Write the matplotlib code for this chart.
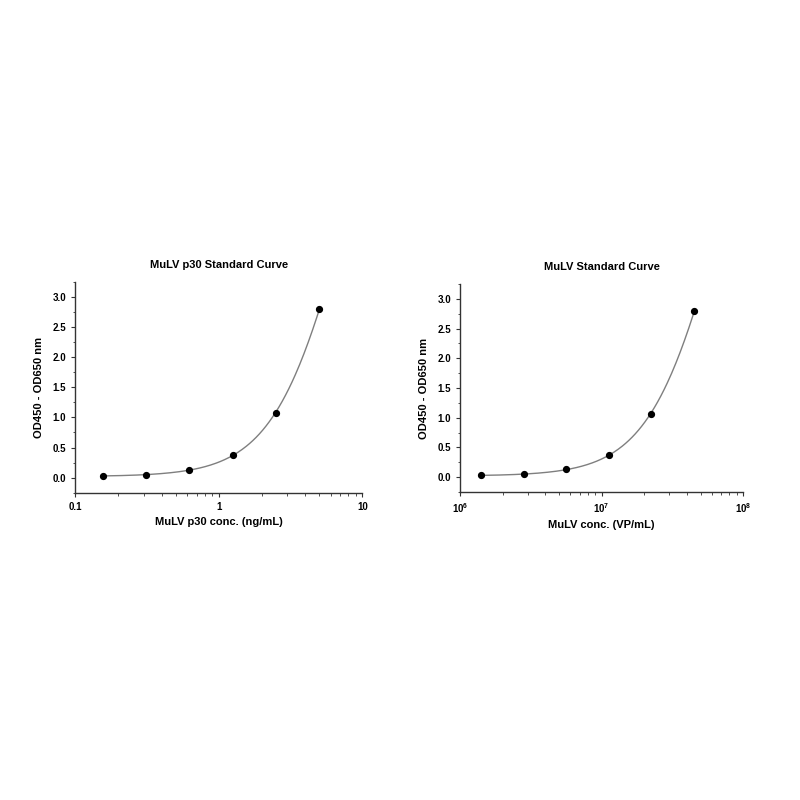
import matplotlib
matplotlib.use("Agg")
import matplotlib.pyplot as plt
from matplotlib.ticker import MultipleLocator, LogLocator, NullFormatter, FixedFormatter, FixedLocator
import numpy as np

plt.rcParams['font.family'] = ['Liberation Sans', 'DejaVu Sans']
plt.rcParams['font.weight'] = 'bold'
plt.rcParams['mathtext.default'] = 'bf'
plt.rcParams['mathtext.fontset'] = 'custom'
plt.rcParams['mathtext.bf'] = 'Liberation Sans:bold'

# standard curve data
p30_conc = [0.156, 0.3125, 0.625, 1.25, 2.5, 5.0]          # ng/mL
vp_conc = [1.41e6, 2.82e6, 5.63e6, 1.125e7, 2.25e7, 4.5e7]  # VP/mL
od_values = [0.03, 0.05, 0.13, 0.37, 1.07, 2.80]

titles = ["MuLV p30 Standard Curve", "MuLV Standard Curve"]
xlabels = ["MuLV p30 conc. (ng/mL)", "MuLV conc. (VP/mL)"]
ylabel = "OD450 - OD650 nm"


def fit_curve(x, y):
    # smooth fit in log-log space
    lx = np.log10(x)
    coef = np.polyfit(lx, np.log10(y), 3)
    xs = np.linspace(lx[0], lx[-1], 200)
    return 10 ** xs, 10 ** np.polyval(coef, xs)


fig = plt.figure(figsize=(8, 8), dpi=100)
ax1 = fig.add_axes([0.094, 0.384, 0.359, 0.264])
ax2 = fig.add_axes([0.575, 0.385, 0.354, 0.26])

for ax, x, title, xl in [(ax1, p30_conc, titles[0], xlabels[0]),
                         (ax2, vp_conc, titles[1], xlabels[1])]:
    fx, fy = fit_curve(np.array(x), np.array(od_values))
    ax.plot(fx, fy, color='#7f7f7f', lw=1.0)
    ax.plot(x, od_values, 'o', color='black', ms=4.2)
    ax.set_xscale('log')
    ax.set_ylim(-0.25, 3.25)
    ax.yaxis.set_major_locator(MultipleLocator(0.5))
    ax.yaxis.set_minor_locator(MultipleLocator(0.25))
    ax.yaxis.set_major_formatter(plt.FuncFormatter(lambda v, p: f"{v:.1f}"))
    ax.xaxis.set_minor_locator(LogLocator(base=10, subs=np.arange(2, 10)))
    ax.xaxis.set_minor_formatter(NullFormatter())
    for s in ['top', 'right']:
        ax.spines[s].set_visible(False)
    for s in ['left', 'bottom']:
        ax.spines[s].set_color('#333333')
        ax.spines[s].set_linewidth(1.0)
    ax.tick_params(which='major', direction='out', length=3, width=0.8,
                   labelsize=7, colors='#333333', labelcolor='black')
    ax.tick_params(which='minor', direction='out', length=1.8, width=0.6, colors='#333333')
    ax.set_title(title, fontsize=8, fontweight='bold', pad=10)
    ax.set_xlabel(xl, fontsize=8, fontweight='bold', labelpad=4)
    ax.set_ylabel(ylabel, fontsize=8, fontweight='bold', labelpad=6)

ax1.set_xlim(0.1, 10)
ax1.xaxis.set_major_locator(FixedLocator([0.1, 1, 10]))
ax1.xaxis.set_major_formatter(FixedFormatter(["0.1", "1", "10"]))

ax2.set_xlim(1e6, 1e8)
ax2.xaxis.set_major_locator(FixedLocator([1e6, 1e7, 1e8]))
ax2.xaxis.set_major_formatter(FixedFormatter([r"$10^{6}$", r"$10^{7}$", r"$10^{8}$"]))

fig.savefig("out.png", dpi=100)
